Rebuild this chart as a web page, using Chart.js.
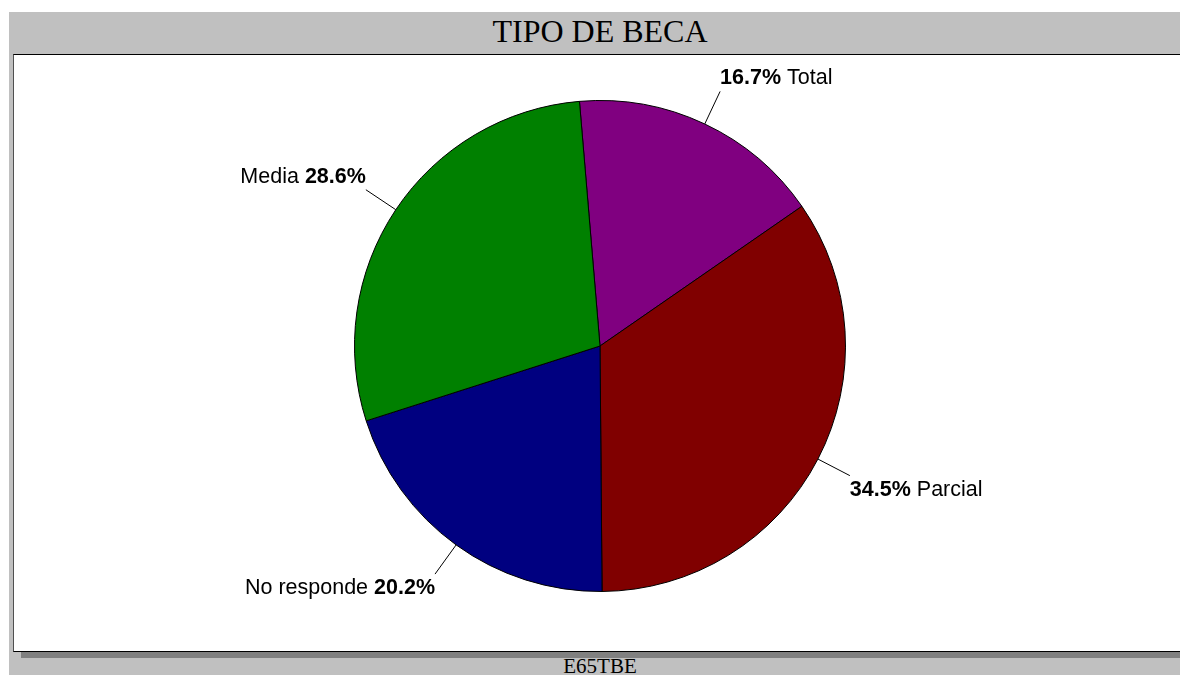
<!DOCTYPE html>
<html>
<head>
<meta charset="utf-8">
<script src="https://cdn.jsdelivr.net/npm/chart.js@4.4.0/dist/chart.umd.min.js"></script>
<style>
  html, body { margin: 0; padding: 0; background: #fff; }
  body { width: 1180px; height: 675px; position: relative; overflow: hidden; }
  #frame { position: absolute; left: 9px; top: 12px; width: 1180px; height: 670px; background: #c0c0c0; }
  #shadow { position: absolute; left: 21px; top: 652px; width: 1170px; height: 6px; background: #808080; }
  #plot { position: absolute; left: 13px; top: 54px; width: 1180px; height: 596px; background: #fff;
          border-top: 1px solid #000; border-bottom: 1px solid #000; border-left: 1px solid #505050; }
  #title { position: absolute; left: 0; top: 11px; width: 1200px; text-align: center;
           font-family: "Liberation Serif", "Times New Roman", serif; font-size: 32px; line-height: 40px; color: #000; }
  #footer { position: absolute; left: 0; top: 654px; width: 1200px; text-align: center;
            font-family: "Liberation Serif", "Times New Roman", serif; font-size: 21px; line-height: 24px; color: #000; }
  #wrap { position: absolute; left: 0; top: 0; width: 1180px; height: 675px; }
</style>
</head>
<body>
<div id="frame"></div>
<div id="shadow"></div>
<div id="plot"></div>
<div id="title">TIPO DE BECA</div>
<div id="footer">E65TBE</div>
<div id="wrap"><canvas id="myChart" width="1180" height="675"></canvas></div>
<script>
const labels = ['Total', 'Parcial', 'No responde', 'Media'];
const values = [16.7, 34.5, 20.2, 28.6];
const colors = ['#800080', '#800000', '#000080', '#008000'];

// label text: percent first on the right side, name first on the left side
const labelFont = '"Liberation Sans", Arial, sans-serif';
const labelSize = 21.5;

const pieLabels = {
  id: 'pieLabels',
  afterDatasetsDraw(chart) {
    const c = chart.ctx;
    const meta = chart.getDatasetMeta(0);
    meta.data.forEach((arc, i) => {
      const p = arc.getProps(['x', 'y', 'startAngle', 'endAngle', 'outerRadius'], true);
      const mid = (p.startAngle + p.endAngle) / 2;
      const cos = Math.cos(mid), sin = Math.sin(mid);
      const x0 = p.x + cos * p.outerRadius, y0 = p.y + sin * p.outerRadius;
      const r1 = p.outerRadius + 36;
      const x1 = p.x + cos * r1, y1 = p.y + sin * r1;
      c.save();
      c.strokeStyle = '#000';
      c.lineWidth = 1;
      c.beginPath();
      c.moveTo(x0, y0);
      c.lineTo(x1, y1);
      c.stroke();

      const pct = values[i].toFixed(1) + '%';
      const bold = 'bold ' + labelSize + 'px ' + labelFont;
      const norm = labelSize + 'px ' + labelFont;
      c.font = bold;
      const wp = c.measureText(pct).width;
      c.font = norm;
      const wn = c.measureText(labels[i] + ' ').width;
      const total = wp + wn;
      const right = cos >= 0;
      const below = sin > 0;
      const yText = below ? y1 + 14 : y1 - 13;
      c.textBaseline = 'middle';
      c.fillStyle = '#000';
      c.textAlign = 'left';
      if (right) {
        c.font = bold;
        c.fillText(pct, x1, yText);
        c.font = norm;
        c.fillText(' ' + labels[i], x1 + wp, yText);
      } else {
        const xs = x1 - total;
        c.font = norm;
        c.fillText(labels[i] + ' ', xs, yText);
        c.font = bold;
        c.fillText(pct, xs + wn, yText);
      }
      c.restore();
    });
  }
};

const ctx = document.getElementById('myChart');
const myChart = new Chart(ctx, {
  type: 'pie',
  data: {
    labels: labels,
    datasets: [{
      data: values,
      backgroundColor: colors,
      borderColor: '#000',
      borderWidth: 1
    }]
  },
  options: {
    responsive: false,
    animation: false,
    devicePixelRatio: 1,
    rotation: -4.8,
    layout: { padding: { top: 100, bottom: 83, left: 20, right: 0 } },
    plugins: {
      legend: { display: false },
      tooltip: { enabled: false }
    }
  },
  plugins: [pieLabels]
});
</script>
</body>
</html>
